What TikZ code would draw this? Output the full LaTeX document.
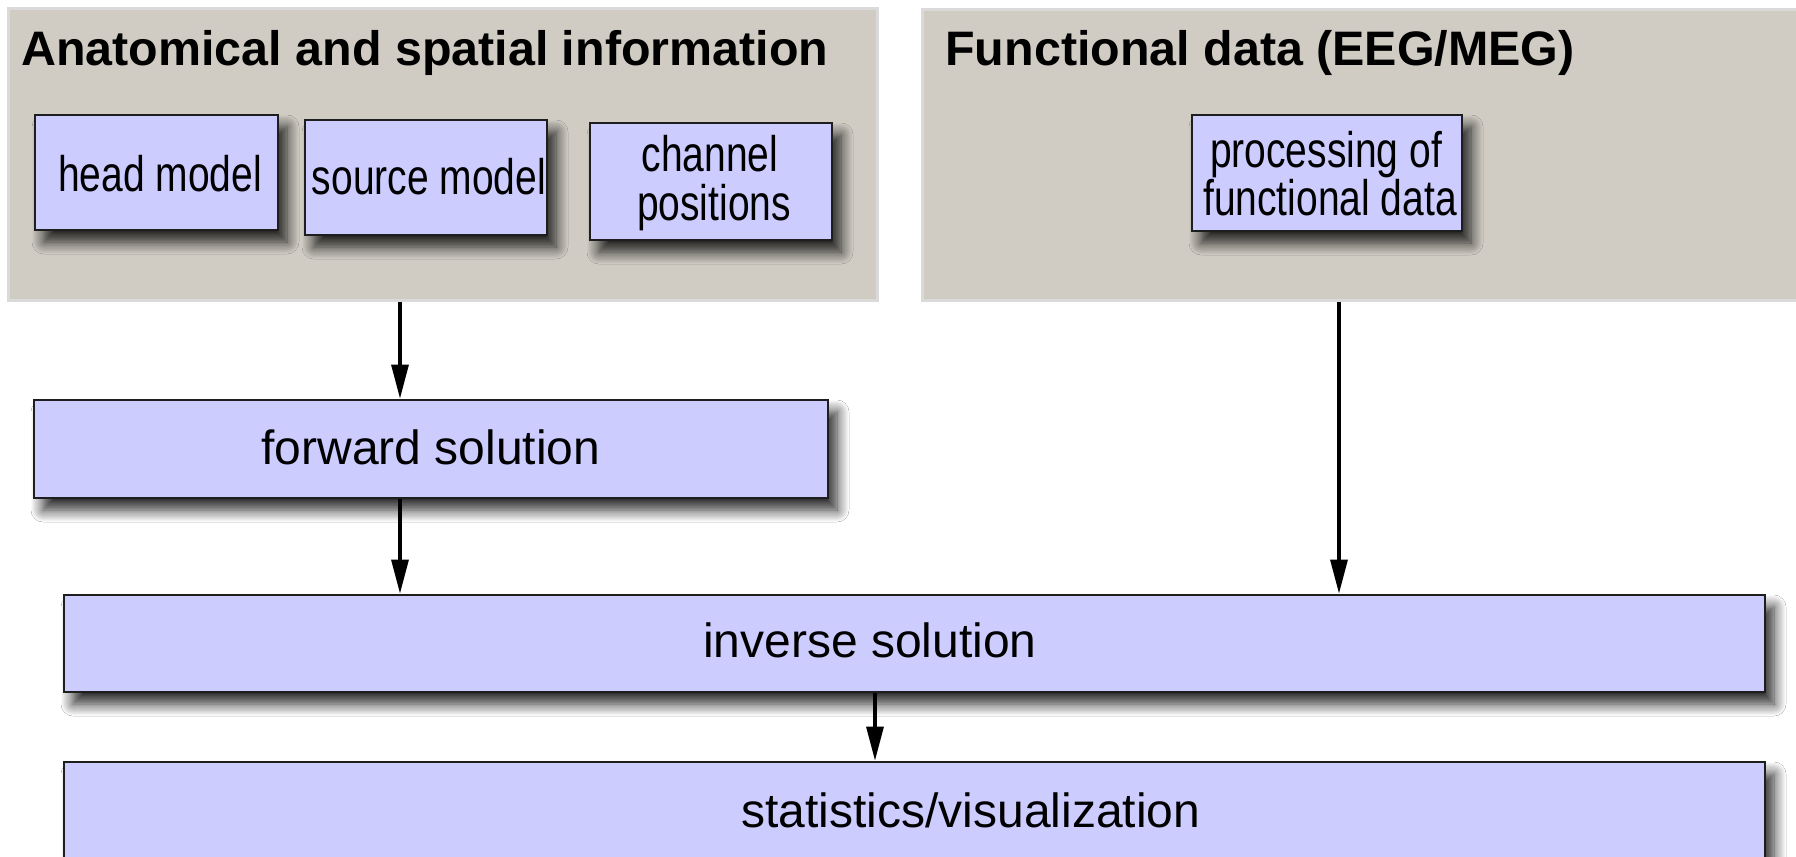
\documentclass[tikz,border=0pt]{standalone}
\usepackage{fontspec}
\setmainfont{Liberation Sans}
\usetikzlibrary{arrows.meta,shadows.blur}
\definecolor{lav}{RGB}{204,204,255}
\definecolor{panel}{RGB}{208,204,196}
\definecolor{paneledge}{RGB}{218,218,218}
\definecolor{edgecol}{RGB}{30,30,30}
\newcommand{\narrowtext}[1]{\scalebox{0.78}[1]{#1}}
\begin{document}
\begin{tikzpicture}[x=0.5pt,y=-0.5pt,
  panelbox/.style={rectangle, draw=paneledge, line width=1.5pt, fill=panel, inner sep=0pt},
  itembox/.style={rectangle, draw=edgecol, line width=1.4pt, fill=lav, inner sep=0pt,
    blur shadow={shadow xshift=4.5pt, shadow yshift=-6pt, shadow blur radius=6pt, shadow blur steps=12, shadow opacity=85}},
  lbl/.style={inner sep=0pt, anchor=base, font=\fontsize{24}{28}\selectfont},
  smalllbl/.style={inner sep=0pt, anchor=base, font=\fontsize{25}{28}\selectfont},
  ttl/.style={inner sep=0pt, anchor=base west, font=\fontsize{24.2}{28}\selectfont\bfseries},
  arr/.style={line width=1.6pt, draw=black, -{Triangle[length=17pt,width=8.5pt]}}
]
\path[use as bounding box, fill=white] (0,0) rectangle (1796,857);

% panels
\node[panelbox, minimum width=434.5pt, minimum height=146pt] (gA) at (442.5,154) {};
\node[panelbox, minimum width=439pt, minimum height=145.5pt] (gF) at (1361,154.5) {};
\node[ttl] (tA) at (21,65) {Anatomical and spatial information};
\node[ttl] (tF) at (945,65) {Functional data (EEG/MEG)};

% small boxes
\node[itembox, minimum width=121.5pt, minimum height=57.5pt] (hm) at (156.5,172.5) {};
\node[itembox, minimum width=121pt, minimum height=57.5pt] (sm) at (426,177.5) {};
\node[itembox, minimum width=121pt, minimum height=58.5pt] (cp) at (711,181.5) {};
\node[itembox, minimum width=135pt, minimum height=58pt] (pf) at (1327,173) {};

\node[smalllbl] (thm) at (160,191) {\narrowtext{head model}};
\node[smalllbl] (tsm) at (429,194) {\narrowtext{source model}};
\node[smalllbl] (tcp1) at (710,171) {\narrowtext{channel}};
\node[smalllbl] (tcp2) at (714,220) {\narrowtext{positions}};
\node[smalllbl] (tpf1) at (1326,167) {\narrowtext{processing of}};
\node[smalllbl] (tpf2) at (1330,215) {\narrowtext{functional data}};

% big boxes
\node[itembox, minimum width=397pt, minimum height=49pt] (fw) at (431,449) {};
\node[itembox, minimum width=850.5pt, minimum height=48.5pt] (inv) at (914.5,643.5) {};
\node[itembox, minimum width=850.5pt, minimum height=50pt] (st) at (914.5,812) {};

\node[lbl] (tfw) at (431,464) {forward solution};
\node[lbl] (tinv) at (870,657) {inverse solution};
\node[lbl] (tst) at (971,827) {statistics/visualization};

% connectors
\coordinate (xa) at (400,0);
\coordinate (xb) at (1339,0);
\coordinate (xc) at (875,0);
\draw[arr] (gA.south -| xa) -- (fw.north -| xa);
\draw[arr] (fw.south -| xa) -- (inv.north -| xa);
\draw[arr] (gF.south -| xb) -- (inv.north -| xb);
\draw[arr] (inv.south -| xc) -- (st.north -| xc);
\end{tikzpicture}
\end{document}
